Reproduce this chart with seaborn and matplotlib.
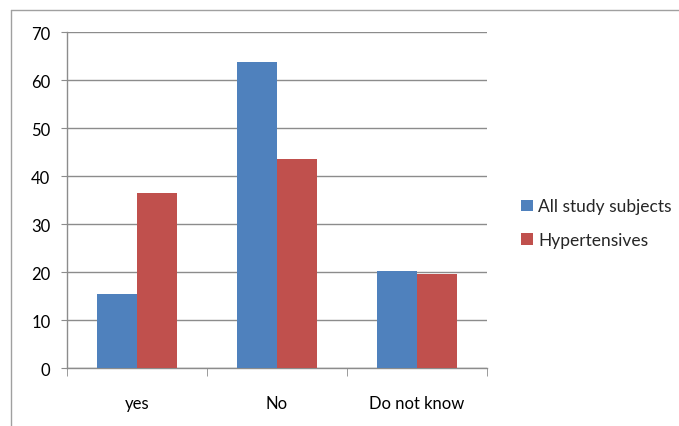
import pandas as pd
import matplotlib.pyplot as plt
import seaborn as sns
from matplotlib.lines import Line2D

# data
categories = ['yes', 'No', 'Do not know']
all_subjects = [15.4, 63.8, 20.3]
hypertensives = [36.4, 43.5, 19.6]
series_names = ['All study subjects', 'Hypertensives']
y_ticks = [0, 10, 20, 30, 40, 50, 60, 70]

df = pd.DataFrame({
    'Answer': categories * 2,
    'Value': all_subjects + hypertensives,
    'Group': [series_names[0]] * 3 + [series_names[1]] * 3,
})

sns.set_style('white')
plt.rcParams['font.family'] = ['Lato', 'DejaVu Sans']

fig = plt.figure(figsize=(6.79, 4.27), dpi=100)
ax = fig.add_axes([0.0987, 0.135, 0.618, 0.7875])

sns.barplot(data=df, x='Answer', y='Value', hue='Group', order=categories,
            hue_order=series_names, palette=['#4F81BD', '#C0504D'],
            width=0.57, saturation=1, linewidth=0, ax=ax, zorder=3)

ax.set_ylim(0, 70)
ax.set_xlim(-0.5, 2.5)
ax.set_yticks(y_ticks)
ax.set_xlabel('')
ax.set_ylabel('')
ax.yaxis.grid(True, color='#8c8c8c', linewidth=1)
ax.set_axisbelow(True)

for s in ['top', 'right']:
    ax.spines[s].set_visible(False)
for s in ['left', 'bottom']:
    ax.spines[s].set_color('#8c8c8c')
    ax.spines[s].set_linewidth(1)

ax.tick_params(axis='y', direction='out', length=4, color='#8c8c8c',
               pad=8, labelsize=12, labelcolor='black', left=True)
ax.tick_params(axis='x', which='major', length=0, pad=19, labelsize=12,
               labelcolor='black')
ax.set_xticks([-0.5, 0.5, 1.5, 2.5], minor=True)
ax.tick_params(axis='x', which='minor', direction='out', length=6,
               color='#8c8c8c', bottom=True)

leg = ax.legend(loc='center left', bbox_to_anchor=(0.745, 0.475),
                bbox_transform=fig.transFigure, frameon=False, fontsize=12.5,
                handlelength=0.65, handleheight=0.65, handletextpad=0.3,
                labelspacing=1.0)

# outer frame like the original figure border
fig.add_artist(Line2D([11 / 679, 11 / 679], [0, 1 - 11 / 427],
                      transform=fig.transFigure, color='#a0a0a0', lw=1))
fig.add_artist(Line2D([11 / 679, 1], [1 - 11 / 427, 1 - 11 / 427],
                      transform=fig.transFigure, color='#a0a0a0', lw=1))

fig.savefig('out.png', dpi=100)
